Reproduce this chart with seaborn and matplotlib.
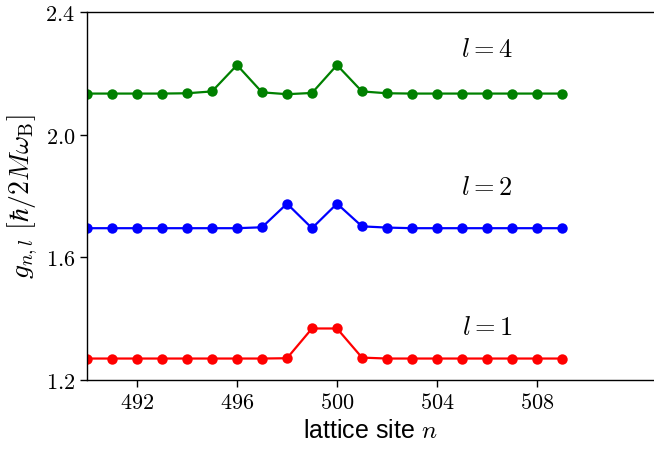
import numpy as np
import pandas as pd
import seaborn as sns
from matplotlib import pyplot as plt
from matplotlib.ticker import FuncFormatter

# lattice sites and coupling values
sites = list(range(490, 510))
g_l1 = [1.270, 1.270, 1.270, 1.270, 1.270, 1.270, 1.270, 1.270, 1.271, 1.368,
        1.368, 1.273, 1.270, 1.270, 1.270, 1.270, 1.270, 1.270, 1.270, 1.270]
g_l2 = [1.695, 1.695, 1.695, 1.695, 1.695, 1.695, 1.695, 1.698, 1.775, 1.695,
        1.775, 1.701, 1.697, 1.695, 1.695, 1.695, 1.695, 1.695, 1.695, 1.695]
g_l4 = [2.134, 2.134, 2.134, 2.134, 2.135, 2.141, 2.227, 2.138, 2.132, 2.136,
        2.227, 2.141, 2.135, 2.134, 2.134, 2.134, 2.134, 2.134, 2.134, 2.134]
series_names = ["$l=1$", "$l=2$", "$l=4$"]
series_colors = ["red", "blue", "green"]
x_ticks = [492, 496, 500, 504, 508]
y_ticks = [1.2, 1.6, 2.0, 2.4]

df = pd.DataFrame({
    "n": sites * 3,
    "g": g_l1 + g_l2 + g_l4,
    "l": [series_names[0]] * 20 + [series_names[1]] * 20 + [series_names[2]] * 20,
})

sns.set_style("ticks")
plt.rcParams["mathtext.fontset"] = "cm"
plt.rcParams["font.family"] = ["Liberation Sans", "DejaVu Sans"]
plt.rcParams["text.color"] = "black"
plt.rcParams["axes.labelcolor"] = "black"
plt.rcParams["xtick.color"] = "black"
plt.rcParams["ytick.color"] = "black"

fig = plt.figure(figsize=(6.54, 4.52), dpi=100)
ax = fig.add_axes([87 / 654, 1 - 381 / 452, 1 - 87 / 654, (381 - 13) / 452])

sns.lineplot(
    data=df, x="n", y="g", hue="l",
    palette=dict(zip(series_names, series_colors)),
    marker="o", markersize=7.5, markeredgewidth=0,
    linewidth=1.6, legend=False, ax=ax,
)

ax.set_xlim(490, 490 + (654 - 87) / 25)
ax.set_ylim(1.2, 2.4)
ax.set_xticks(x_ticks)
ax.set_yticks(y_ticks)
ax.xaxis.set_major_formatter(FuncFormatter(lambda v, p: f"${v:.0f}$"))
ax.yaxis.set_major_formatter(FuncFormatter(lambda v, p: f"${v:.1f}$"))
ax.tick_params(direction="out", length=5, width=1, labelsize=16, color="black")
ax.spines["right"].set_visible(False)
for s in ["left", "bottom", "top"]:
    ax.spines[s].set_color("black")
    ax.spines[s].set_linewidth(1.0)

ax.set_xlabel("lattice site $n$", fontsize=18)
ax.set_ylabel(r"$g_{n,l}\ [\hbar/2M\omega_{\rm B}]$", fontsize=20, labelpad=4)

ax.text(506, 2.28, series_names[2], fontsize=19, ha="center", va="center")
ax.text(506, 1.83, series_names[1], fontsize=19, ha="center", va="center")
ax.text(506, 1.374, series_names[0], fontsize=19, ha="center", va="center")

plt.savefig("out.png", dpi=100)
plt.close()
